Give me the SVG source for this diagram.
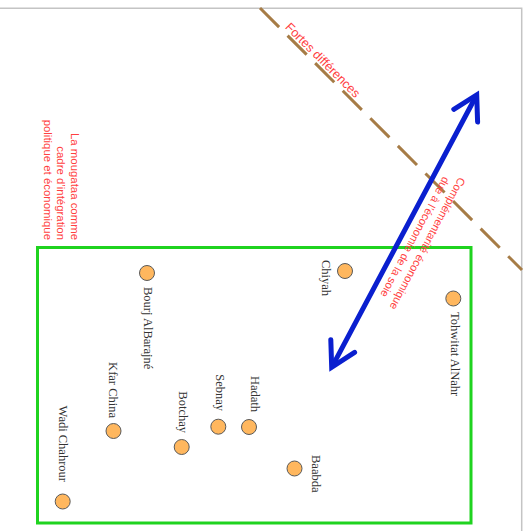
<svg xmlns="http://www.w3.org/2000/svg" width="528" height="531" viewBox="0 0 528 531">
<style>
.frame{fill:none;stroke:#c4c4c4;stroke-width:1.5}
.zone{fill:none;stroke:#1fd31f;stroke-width:3}
.place circle{fill:#ffb75e;stroke:#5a5a5a;stroke-width:1}
.place text{font-family:"Liberation Serif","Times New Roman",serif;font-size:12.5px;fill:#333}
.note{font-family:"Liberation Sans",Arial,sans-serif;fill:#ff4040}
.dash{fill:none;stroke:#a67c46;stroke-width:3;stroke-dasharray:27 12}
.arrow{fill:none;stroke:#0a1fcf;stroke-width:5;stroke-linecap:round;stroke-linejoin:miter}
</style>
<rect x="0" y="0" width="528" height="531" fill="#fff"/>
<path class="frame" d="M0,8.3 H521.7 V531"/>
<g id="zone">
<rect class="zone" x="37.5" y="247.5" width="433.5" height="275.5"/>
</g>
<g id="label-mougataa">
<text class="note" font-size="11.4" text-anchor="end" transform="translate(71,240) rotate(90)"><tspan x="0" y="0">La mougataa comme</tspan><tspan x="0" y="13.75">cadre d’intégration</tspan><tspan x="0" y="27.5">politique et économique</tspan></text>
</g>
<g id="connectors">
<line class="dash" x1="260" y1="8" x2="522" y2="270"/>
<g id="arrow">
<line class="arrow" x1="474" y1="100" x2="334.4" y2="362.3"/>
<polyline class="arrow" points="453.8,109.3 476.7,95 477.6,122"/>
<polyline class="arrow" points="330.8,339.7 331.7,367.3 354.6,352.4"/>
</g>
</g>
<g id="label-fortes">
<text class="note" font-size="12.5" text-anchor="middle" transform="translate(260,8) rotate(45)" x="81.3" y="-3.3">Fortes différences</text>
</g>
<g id="label-complementarite">
<text class="note" font-size="11.1" text-anchor="middle" transform="translate(404.2,231.2) rotate(118)"><tspan x="0" y="-22.6">Complémentarité économique</tspan><tspan x="0" y="-8.6">due à l’économie de la soie</tspan></text>
</g>
<g id="chiyah" class="place">
<circle cx="345" cy="271" r="7.5"/>
<text transform="translate(322,260) rotate(90)">Chiyah</text>
</g>
<g id="bourj-albarajne" class="place">
<circle cx="147" cy="273" r="7.5"/>
<text transform="translate(144,287) rotate(90)">Bourj AlBarajné</text>
</g>
<g id="tohwitat-alnahr" class="place">
<circle cx="453.3" cy="298.5" r="7.5"/>
<text transform="translate(450.5,312) rotate(90)">Tohwitat AlNahr</text>
</g>
<g id="hadath" class="place">
<circle cx="249" cy="427" r="7.5"/>
<text text-anchor="end" transform="translate(250.5,412) rotate(90)">Hadath</text>
</g>
<g id="sebnay" class="place">
<circle cx="218.3" cy="426.7" r="7.5"/>
<text text-anchor="end" transform="translate(216,411) rotate(90)">Sebnay</text>
</g>
<g id="botchay" class="place">
<circle cx="181.7" cy="447" r="7.5"/>
<text text-anchor="end" transform="translate(179,433) rotate(90)">Botchay</text>
</g>
<g id="kfar-china" class="place">
<circle cx="113.5" cy="431" r="7.5"/>
<text text-anchor="end" transform="translate(109,418) rotate(90)">Kfar China</text>
</g>
<g id="wadi-chahrour" class="place">
<circle cx="62.7" cy="501.5" r="7.5"/>
<text text-anchor="end" transform="translate(59,482) rotate(90)">Wadi Chahrour</text>
</g>
<g id="baabda" class="place">
<circle cx="294.5" cy="468.5" r="7.5"/>
<text transform="translate(312,455) rotate(90)">Baabda</text>
</g>
</svg>
